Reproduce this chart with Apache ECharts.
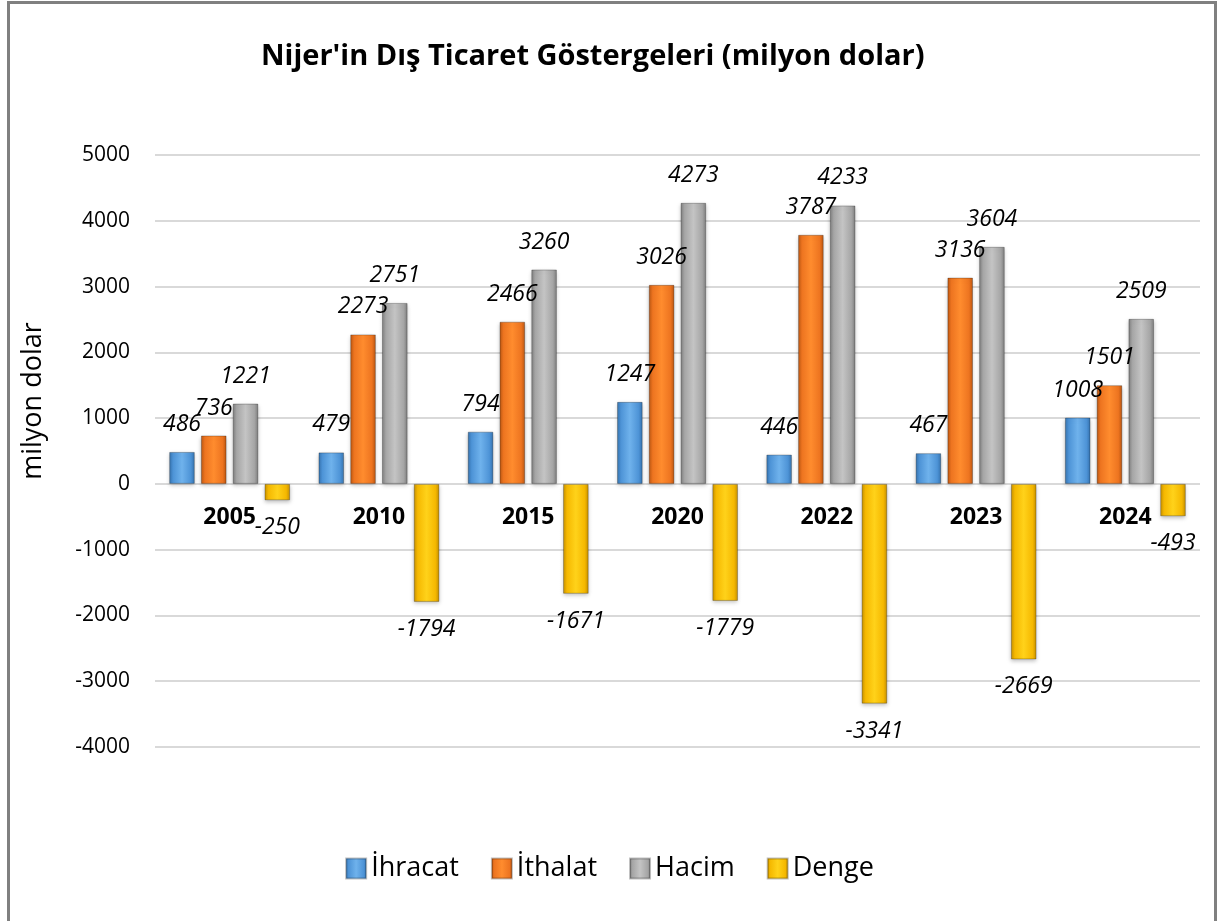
<!DOCTYPE html>
<html>
<head>
<meta charset="utf-8">
<script src="https://cdn.jsdelivr.net/npm/echarts@6/dist/echarts.min.js"></script>
<style>
html, body { margin: 0; padding: 0; background: #fff; }
#chart { width: 1219px; height: 921px; }
</style>
</head>
<body>
<div id="chart"></div>
<script>
// veriler
var years = ['2005', '2010', '2015', '2020', '2022', '2023', '2024'];
var ihracat = [486, 479, 794, 1247, 446, 467, 1008];
var ithalat = [736, 2273, 2466, 3026, 3787, 3136, 1501];
var hacim = [1221, 2751, 3260, 4273, 4233, 3604, 2509];
var denge = [-250, -1794, -1671, -1779, -3341, -2669, -493];
var yTicks = [-4000, -3000, -2000, -1000, 0, 1000, 2000, 3000, 4000, 5000];

var font = '"Open Sans", "Noto Sans", sans-serif';

// bevel benzeri renk geçişi
function grad(light, mid, dark) {
    return new echarts.graphic.LinearGradient(0, 0, 1, 0, [
        { offset: 0, color: dark },
        { offset: 0.15, color: mid },
        { offset: 0.5, color: light },
        { offset: 0.85, color: mid },
        { offset: 1, color: dark }
    ]);
}

var colors = {
    'İhracat': grad('#6fb2ec', '#4d93d6', '#3572ad'),
    'İthalat': grad('#ff8c2e', '#ed7420', '#b85512'),
    'Hacim': grad('#c4c4c4', '#a5a5a5', '#7d7d7d'),
    'Denge': grad('#ffd21a', '#f5b800', '#c48f00')
};
var legendColors = ['#4d93d6', '#ed7420', '#a5a5a5', '#f5b800'];

function mkSeries(name, data) {
    return {
        name: name,
        type: 'bar',
        data: data.map(function (v) {
            return {
                value: v,
                label: { position: v < 0 ? 'bottom' : 'top' }
            };
        }),
        barGap: '24%',
        barCategoryGap: '19%',
        itemStyle: {
            color: colors[name],
            borderColor: 'rgba(0,0,0,0.25)',
            borderWidth: 1,
            shadowColor: 'rgba(0,0,0,0.25)',
            shadowBlur: 4,
            shadowOffsetY: 2
        },
        label: {
            show: true,
            distance: 16,
            fontFamily: font,
            fontStyle: 'italic',
            fontSize: 23,
            color: '#000'
        }
    };
}

var chart = echarts.init(document.getElementById('chart'));
chart.setOption({
    backgroundColor: '#fff',
    animation: false,
    color: legendColors,
    title: {
        text: "Nijer'in Dış Ticaret Göstergeleri (milyon dolar)",
        left: 256,
        top: 37,
        textStyle: { fontFamily: font, fontWeight: 'bold', fontSize: 29, color: '#000' }
    },
    graphic: [{
        type: 'rect',
        shape: { x: 8.5, y: 2.5, width: 1207, height: 940 },
        style: { fill: 'none', stroke: '#808080', lineWidth: 3 },
        silent: true
    }],
    legend: {
        bottom: 34,
        left: 'center',
        itemWidth: 20,
        itemHeight: 20,
        itemGap: 32,
        icon: 'rect',
        textStyle: { fontFamily: font, fontSize: 27, color: '#000' },
        data: ['İhracat', 'İthalat', 'Hacim', 'Denge']
    },
    grid: { left: 155, right: 19, top: 155, bottom: 174, containLabel: false },
    xAxis: {
        type: 'category',
        data: years,
        position: 'bottom',
        offset: -263,
        axisLine: { show: false },
        axisTick: { show: false },
        axisLabel: {
            fontFamily: font,
            fontWeight: 'bold',
            fontSize: 23,
            color: '#000',
            margin: 22
        },
        z: 5
    },
    yAxis: {
        type: 'value',
        min: yTicks[0],
        max: yTicks[yTicks.length - 1],
        interval: 1000,
        name: 'milyon dolar',
        nameLocation: 'middle',
        nameGap: 108,
        nameTextStyle: { fontFamily: font, fontSize: 27, color: '#000', padding: [0, 0, 0, 100] },
        axisLine: { show: false },
        axisTick: { show: false },
        axisLabel: {
            fontFamily: font, fontSize: 21, color: '#000', margin: 25,
            formatter: function (v) { return String(v); }
        },
        splitLine: { lineStyle: { color: '#d9d9d9', width: 2 } }
    },
    series: [
        mkSeries('İhracat', ihracat),
        mkSeries('İthalat', ithalat),
        mkSeries('Hacim', hacim),
        mkSeries('Denge', denge)
    ]
});
</script>
</body>
</html>
